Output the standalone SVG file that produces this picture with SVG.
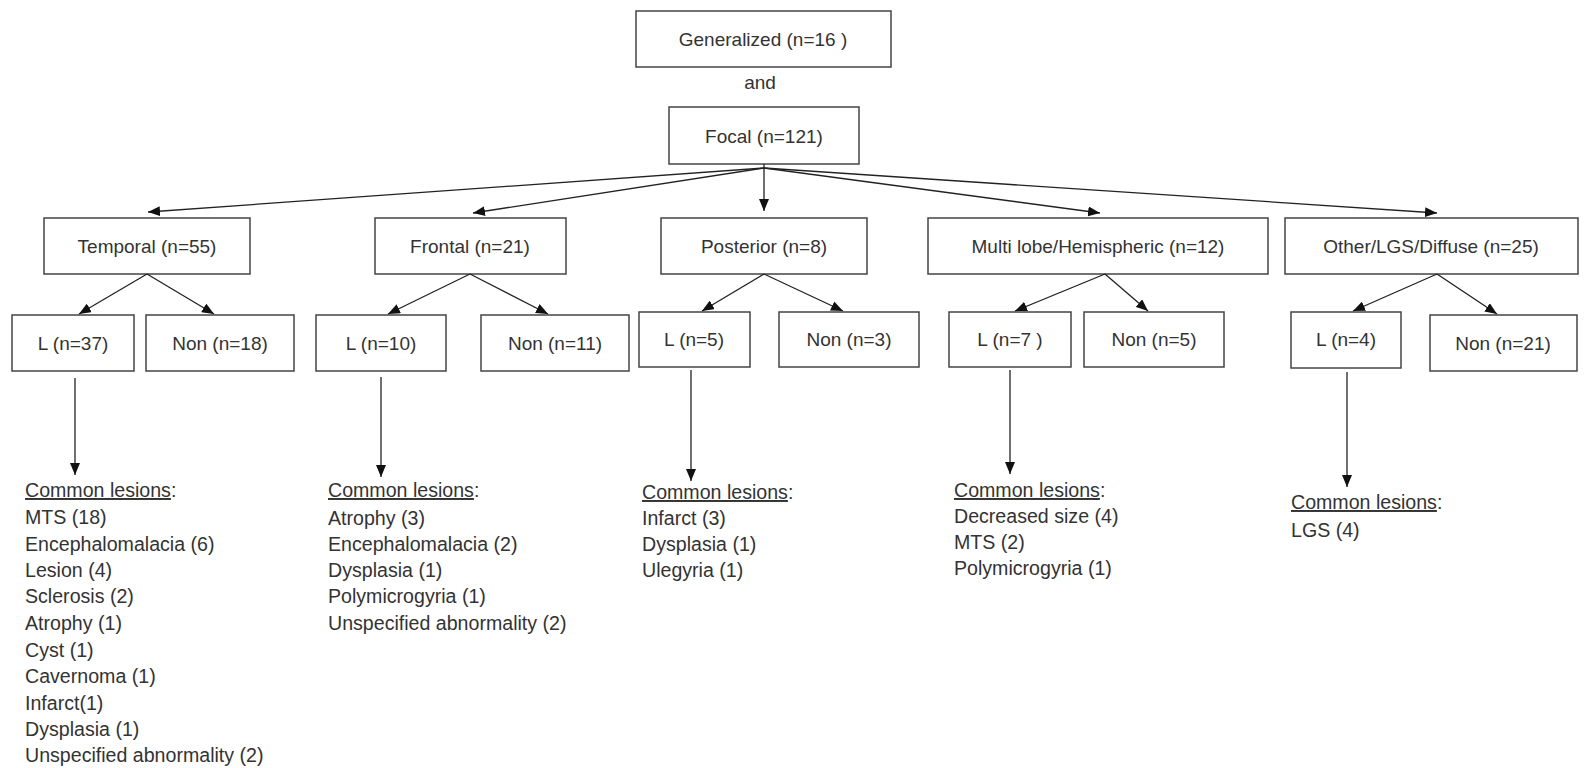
<svg xmlns="http://www.w3.org/2000/svg" width="1585" height="768" viewBox="0 0 1585 768">
<style>
  text { font-family: "Liberation Sans", Arial, sans-serif; font-size: 19px; fill: #333; }
  .les text { font-size: 19.6px; }
  .box { fill: #fff; stroke: #444; stroke-width: 1.5; }
  .c { text-anchor: middle; }
  .conn line { stroke: #222; stroke-width: 1.3; marker-end: url(#ah); }
  .u { text-decoration: underline; }
</style>
<defs>
  <marker id="ah" markerUnits="userSpaceOnUse" markerWidth="12" markerHeight="10" viewBox="0 0 12 10" refX="12" refY="5" orient="auto">
    <path d="M0,0 L12,5 L0,10 z" fill="#111"/>
  </marker>
</defs>
<rect width="1585" height="768" fill="#fff"/>

<g id="generalized"><rect class="box" x="636" y="11" width="255" height="56"/><text class="c" x="763" y="46">Generalized (n=16 )</text></g>
<g id="and"><text class="c" x="760" y="89">and</text></g>
<g id="focal"><rect class="box" x="669" y="107" width="190" height="57"/><text class="c" x="764" y="143">Focal (n=121)</text></g>

<g id="temporal"><rect class="box" x="44" y="218" width="206" height="56"/><text class="c" x="147" y="253">Temporal (n=55)</text></g>
<g id="frontal"><rect class="box" x="375" y="218" width="191" height="56"/><text class="c" x="470" y="253">Frontal (n=21)</text></g>
<g id="posterior"><rect class="box" x="661" y="218" width="206" height="56"/><text class="c" x="764" y="253">Posterior (n=8)</text></g>
<g id="multi"><rect class="box" x="928" y="218" width="340" height="56"/><text class="c" x="1098" y="253">Multi lobe/Hemispheric (n=12)</text></g>
<g id="other"><rect class="box" x="1285" y="218" width="293" height="56"/><text class="c" x="1431" y="253">Other/LGS/Diffuse (n=25)</text></g>

<g id="t-l"><rect class="box" x="12" y="315" width="122" height="56"/><text class="c" x="73" y="350">L (n=37)</text></g>
<g id="t-non"><rect class="box" x="146" y="315" width="148" height="56"/><text class="c" x="220" y="350">Non (n=18)</text></g>
<g id="f-l"><rect class="box" x="316" y="315" width="130" height="56"/><text class="c" x="381" y="350">L (n=10)</text></g>
<g id="f-non"><rect class="box" x="481" y="315" width="148" height="56"/><text class="c" x="555" y="350">Non (n=11)</text></g>
<g id="p-l"><rect class="box" x="639" y="312" width="111" height="55"/><text class="c" x="694" y="346">L (n=5)</text></g>
<g id="p-non"><rect class="box" x="779" y="312" width="140" height="55"/><text class="c" x="849" y="346">Non (n=3)</text></g>
<g id="m-l"><rect class="box" x="949" y="312" width="122" height="55"/><text class="c" x="1010" y="346">L (n=7 )</text></g>
<g id="m-non"><rect class="box" x="1084" y="312" width="140" height="55"/><text class="c" x="1154" y="346">Non (n=5)</text></g>
<g id="o-l"><rect class="box" x="1291" y="312" width="110" height="56"/><text class="c" x="1346" y="346">L (n=4)</text></g>
<g id="o-non"><rect class="box" x="1430" y="315" width="147" height="56"/><text class="c" x="1503" y="350">Non (n=21)</text></g>

<g id="t-lesions" class="les">
  <text x="25" y="497"><tspan class="u">Common lesions</tspan>:</text>
  <text x="25" y="524">MTS (18)</text>
  <text x="25" y="551">Encephalomalacia (6)</text>
  <text x="25" y="577">Lesion (4)</text>
  <text x="25" y="603">Sclerosis (2)</text>
  <text x="25" y="630">Atrophy (1)</text>
  <text x="25" y="657">Cyst (1)</text>
  <text x="25" y="683">Cavernoma (1)</text>
  <text x="25" y="710">Infarct(1)</text>
  <text x="25" y="736">Dysplasia (1)</text>
  <text x="25" y="762">Unspecified abnormality (2)</text>
</g>
<g id="f-lesions" class="les">
  <text x="328" y="497"><tspan class="u">Common lesions</tspan>:</text>
  <text x="328" y="525">Atrophy (3)</text>
  <text x="328" y="551">Encephalomalacia (2)</text>
  <text x="328" y="577">Dysplasia (1)</text>
  <text x="328" y="603">Polymicrogyria (1)</text>
  <text x="328" y="630">Unspecified abnormality (2)</text>
</g>
<g id="p-lesions" class="les">
  <text x="642" y="499"><tspan class="u">Common lesions</tspan>:</text>
  <text x="642" y="525">Infarct (3)</text>
  <text x="642" y="551">Dysplasia (1)</text>
  <text x="642" y="577">Ulegyria (1)</text>
</g>
<g id="m-lesions" class="les">
  <text x="954" y="497"><tspan class="u">Common lesions</tspan>:</text>
  <text x="954" y="523">Decreased size (4)</text>
  <text x="954" y="549">MTS (2)</text>
  <text x="954" y="575">Polymicrogyria (1)</text>
</g>
<g id="o-lesions" class="les">
  <text x="1291" y="509"><tspan class="u">Common lesions</tspan>:</text>
  <text x="1291" y="537">LGS (4)</text>
</g>

<g id="connectors" class="conn">
  <line x1="764" y1="168" x2="148" y2="212"/>
  <line x1="764" y1="168" x2="473" y2="213"/>
  <line x1="764" y1="164" x2="764" y2="211"/>
  <line x1="764" y1="168" x2="1100" y2="213"/>
  <line x1="764" y1="168" x2="1437" y2="213"/>
  <line x1="147" y1="274" x2="79" y2="314"/>
  <line x1="147" y1="274" x2="214" y2="314"/>
  <line x1="470" y1="274" x2="388" y2="314"/>
  <line x1="470" y1="274" x2="548" y2="314"/>
  <line x1="764" y1="274" x2="702" y2="311"/>
  <line x1="764" y1="274" x2="843" y2="311"/>
  <line x1="1105" y1="274" x2="1015" y2="311"/>
  <line x1="1105" y1="274" x2="1148" y2="311"/>
  <line x1="1437" y1="274" x2="1353" y2="311"/>
  <line x1="1437" y1="274" x2="1497" y2="314"/>
  <line x1="75" y1="378" x2="75" y2="475"/>
  <line x1="381" y1="377" x2="381" y2="477"/>
  <line x1="691" y1="370" x2="691" y2="481"/>
  <line x1="1010" y1="370" x2="1010" y2="474"/>
  <line x1="1347" y1="372" x2="1347" y2="487"/>
</g>
</svg>
